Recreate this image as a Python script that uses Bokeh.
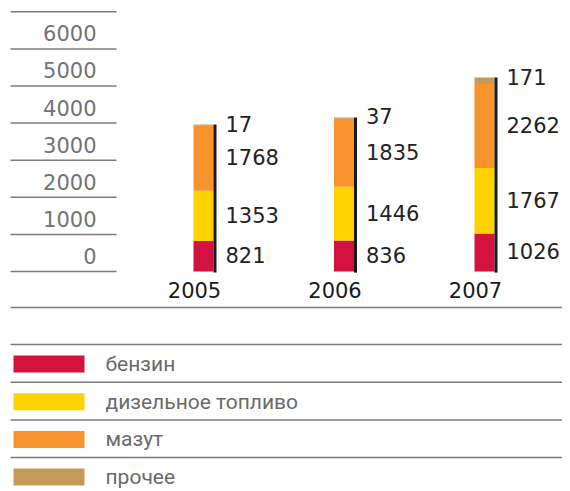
import numpy as np
from bokeh.plotting import figure
from bokeh.layouts import column
from bokeh.models import Range1d
from bokeh.core.properties import value
from bokeh.embed import file_html
from bokeh.resources import INLINE

# ---- data ----
years = ["2005", "2006", "2007"]
benzin = [821, 836, 1026]
diesel = [1353, 1446, 1767]
mazut = [1768, 1835, 2262]
prochee = [17, 37, 171]
series_names = ["бензин", "дизельное топливо", "мазут", "прочее"]
series_colors = ["#D3123F", "#FFD200", "#F7932A", "#C49A58"]
y_ticks = [0, 1000, 2000, 3000, 4000, 5000, 6000]
y_tick_labels = ["0", "1000", "2000", "3000", "4000", "5000", "6000"]
grid_levels = [0, 1000, 2000, 3000, 4000, 5000, 6000, 7000]

NUM_FONT = value("DejaVu Sans")
TXT_FONT = value("Roboto")

# ---- top chart ----
W = 562
px_per_idx = 140.5
x0_img = 203.0
x_start = (0 - x0_img) / px_per_idx
x_end = (W - x0_img) / px_per_idx
H1 = 325
ppu = 0.0371
base_px = 271
y_top = base_px / ppu
y_bot = -(H1 - base_px) / ppu

p = figure(width=W, height=H1, x_range=Range1d(x_start, x_end), y_range=Range1d(y_bot, y_top),
           output_backend="svg", toolbar_location=None, min_border=0)
p.axis.visible = False
p.grid.visible = False
p.outline_line_color = None

idx = np.arange(len(years), dtype=float)
series = [benzin, diesel, mazut, prochee]
bottom = np.zeros(len(years))
bw = 20 / px_per_idx
for vals, col in zip(series, series_colors):
    v = np.array(vals, dtype=float)
    p.vbar(x=idx, width=bw, bottom=bottom, top=bottom + v, fill_color=col, line_color=None)
    bottom = bottom + v
totals = bottom

# black line at right edge of each bar
off = 11.5 / px_per_idx
p.segment(x0=idx + off, y0=np.zeros(len(years)) - 30, x1=idx + off, y1=totals,
          line_color="#1a1a1a", line_width=3)

# value labels
lab_x, lab_y, lab_t = [], [], []
cum = np.zeros(len(years))
for k, vals in enumerate(series):
    v = np.array(vals, dtype=float)
    for i in range(len(years)):
        lab_x.append(idx[i])
        if k < 3:
            lab_y.append(cum[i] + v[i] / 2)
        else:
            lab_y.append(cum[i] + v[i])
        lab_t.append(str(vals[i]))
    cum = cum + v
p.text(x=lab_x, y=lab_y, text=lab_t, x_offset=22, y_offset=-1, text_align="left",
       text_baseline="middle", text_font=NUM_FONT, text_font_size="21px", text_color="#222222")

# year labels
p.text(x=idx, y=np.zeros(len(years)), text=years, x_offset=-9, y_offset=18, text_align="center",
       text_baseline="middle", text_font=NUM_FONT, text_font_size="21px", text_color="#1a1a1a")

# left "axis" lines and labels
gx0 = (10 - x0_img) / px_per_idx
gx1 = (116 - x0_img) / px_per_idx
p.segment(x0=[gx0] * len(grid_levels), y0=grid_levels, x1=[gx1] * len(grid_levels), y1=grid_levels,
          line_color="#7c7c7c", line_width=1.5)
lx = (96 - x0_img) / px_per_idx
p.text(x=[lx] * len(y_ticks), y=[t + 420 for t in y_ticks], text=y_tick_labels, text_align="right",
       text_baseline="middle", text_font=NUM_FONT, text_font_size="21px", text_color="#737373")

# separator line below years
sep_y = -(307 - base_px) / ppu
p.segment(x0=[gx0], y0=[sep_y], x1=[x_end + 1], y1=[sep_y], line_color="#7c7c7c", line_width=1.5)

# ---- legend ----
H2 = 166
row_px = 37.7
top_off = 363.5 - H1
q = figure(width=W, height=H2, x_range=Range1d(0, W),
           y_range=Range1d(-(H2 - top_off) / row_px, top_off / row_px),
           output_backend="svg", toolbar_location=None, min_border=0)
q.axis.visible = False
q.grid.visible = False
q.outline_line_color = None
n = len(series_names)
ry = -np.arange(n, dtype=float)
sh = 17 / row_px / 2
q.quad(left=[13] * n, right=[84] * n, bottom=ry - sh, top=ry + sh, fill_color=series_colors, line_color=None)
q.text(x=[105] * n, y=ry, text=series_names, text_align="left", text_baseline="middle",
       text_font=TXT_FONT, text_font_size="21px", text_color="#6a6a6a")
ly = ry + 19.5 / row_px
q.segment(x0=[10] * n, y0=ly, x1=[W + 10] * n, y1=ly, line_color="#7c7c7c", line_width=1.5)

layout = column(p, q, spacing=0)
open("out.html", "w").write(file_html(layout, INLINE))
